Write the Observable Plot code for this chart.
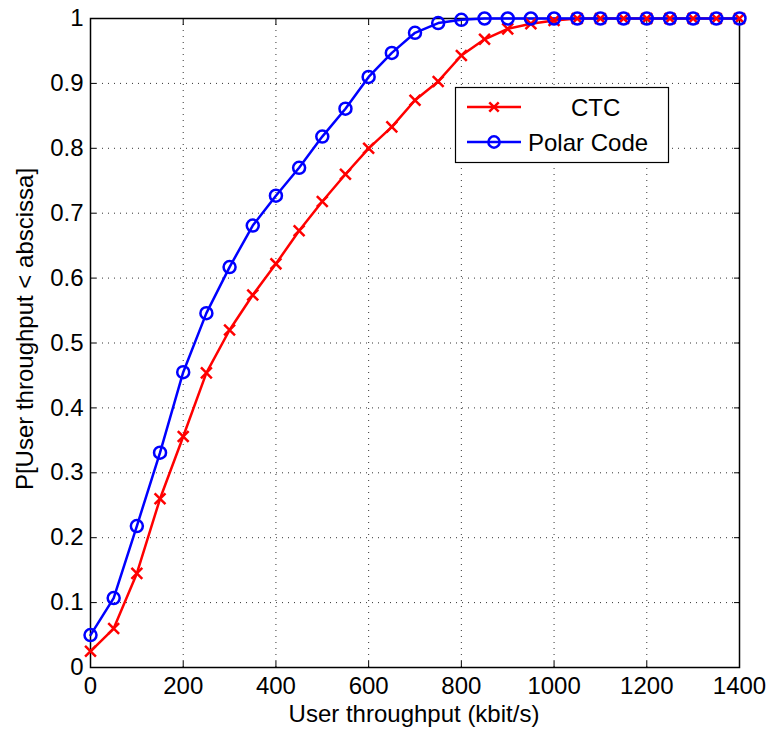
<!DOCTYPE html>
<html>
<head>
<meta charset="utf-8">
<script src="https://cdn.jsdelivr.net/npm/d3@7"></script>
<script src="https://cdn.jsdelivr.net/npm/@observablehq/plot@0.6"></script>
<style>
  html, body { margin: 0; padding: 0; background: #fff; }
  #chart { width: 773px; height: 734px; }
</style>
</head>
<body>
<div id="chart"></div>
<script>
const throughput = [0,50,100,150,200,250,300,350,400,450,500,550,600,650,700,750,800,850,900,950,1000,1050,1100,1150,1200,1250,1300,1350,1400];
const ctc = [0.025,0.06,0.145,0.26,0.356,0.454,0.52,0.574,0.622,0.673,0.718,0.76,0.8,0.833,0.874,0.903,0.943,0.968,0.984,0.992,0.997,1,1,1,1,1,1,1,1];
const polar = [0.05,0.107,0.218,0.331,0.455,0.546,0.617,0.681,0.727,0.77,0.818,0.861,0.91,0.947,0.978,0.993,0.998,1,1,1,1,1,1,1,1,1,1,1,1];
const xTicks = [0,200,400,600,800,1000,1200,1400];
const yTicks = [0,0.1,0.2,0.3,0.4,0.5,0.6,0.7,0.8,0.9,1];
const seriesNames = ["CTC", "Polar Code"];
const xLabel = "User throughput (kbit/s)";
const yLabel = "P[User throughput < abscissa]";

const RED = "#ff0000", BLUE = "#0000ff";
const ctcData = throughput.map((x, i) => ({x, y: ctc[i]}));
const polarData = throughput.map((x, i) => ({x, y: polar[i]}));

const FS = 24;
const SW = 2.5;
const chart = Plot.plot({
  width: 773,
  height: 734,
  marginLeft: 90,
  marginRight: 34,
  marginTop: 18,
  marginBottom: 67,
  style: {fontFamily: "'Liberation Sans', Arial, sans-serif", fontSize: FS + "px", color: "black", background: "white"},
  x: {domain: [0, 1400]},
  y: {domain: [0, 1]},
  marks: [
    Plot.gridX(xTicks, {stroke: "black", strokeOpacity: 0.8, strokeDasharray: "1,5"}),
    Plot.gridY(yTicks, {stroke: "black", strokeOpacity: 0.8, strokeDasharray: "1,5"}),
    Plot.axisX({ticks: xTicks, tickSize: 0, tickPadding: 9, tickFormat: "d", fontSize: FS, label: null}),
    Plot.axisY({ticks: yTicks, tickSize: 0, tickPadding: 7, tickFormat: d => String(+d.toFixed(1)), fontSize: FS, label: null}),
    Plot.axisX({ticks: xTicks, anchor: "bottom", tickSize: -6, fill: "none", label: null}),
    Plot.axisX({ticks: xTicks, anchor: "top", tickSize: -6, fill: "none", label: null}),
    Plot.axisY({ticks: yTicks, anchor: "left", tickSize: -6, fill: "none", label: null}),
    Plot.axisY({ticks: yTicks, anchor: "right", tickSize: -6, fill: "none", label: null}),
    Plot.frame({stroke: "black", strokeWidth: 1.5}),
    Plot.line(ctcData, {x: "x", y: "y", stroke: RED, strokeWidth: SW}),
    Plot.line(polarData, {x: "x", y: "y", stroke: BLUE, strokeWidth: SW}),
    Plot.dot(ctcData, {x: "x", y: "y", symbol: "times", r: 5, stroke: RED, strokeWidth: SW}),
    Plot.dot(polarData, {x: "x", y: "y", symbol: "circle", r: 6, fill: "none", stroke: BLUE, strokeWidth: SW})
  ]
});
document.getElementById("chart").appendChild(chart);

const svg = d3.select(chart);
// axis titles
svg.append("text")
  .attr("x", 414).attr("y", 722)
  .attr("text-anchor", "middle")
  .attr("font-size", FS).attr("fill", "black")
  .text(xLabel);
svg.append("text")
  .attr("transform", "translate(33,329) rotate(-90)")
  .attr("text-anchor", "middle")
  .attr("font-size", FS).attr("fill", "black")
  .text(yLabel);

// legend
const lg = svg.append("g").attr("text-anchor", "start");
lg.append("rect").attr("x", 455.5).attr("y", 87.5).attr("width", 213).attr("height", 75)
  .attr("fill", "white").attr("stroke", "black").attr("stroke-width", 1.2);
const rows = [
  {name: seriesNames[0], color: RED, sym: d3.symbolTimes, size: 60, y: 107, tx: 571},
  {name: seriesNames[1], color: BLUE, sym: d3.symbolCircle, size: 100, y: 142, tx: 528}
];
rows.forEach(r => {
  lg.append("line").attr("x1", 467).attr("x2", 521).attr("y1", r.y).attr("y2", r.y)
    .attr("stroke", r.color).attr("stroke-width", SW);
  lg.append("path").attr("d", d3.symbol(r.sym, r.size)()).attr("transform", `translate(494,${r.y})`)
    .attr("fill", "none").attr("stroke", r.color).attr("stroke-width", SW);
  lg.append("text").attr("x", r.tx).attr("y", r.y + 9)
    .attr("text-anchor", "start")
    .attr("font-size", FS).attr("fill", "black").text(r.name);
});
</script>
</body>
</html>
